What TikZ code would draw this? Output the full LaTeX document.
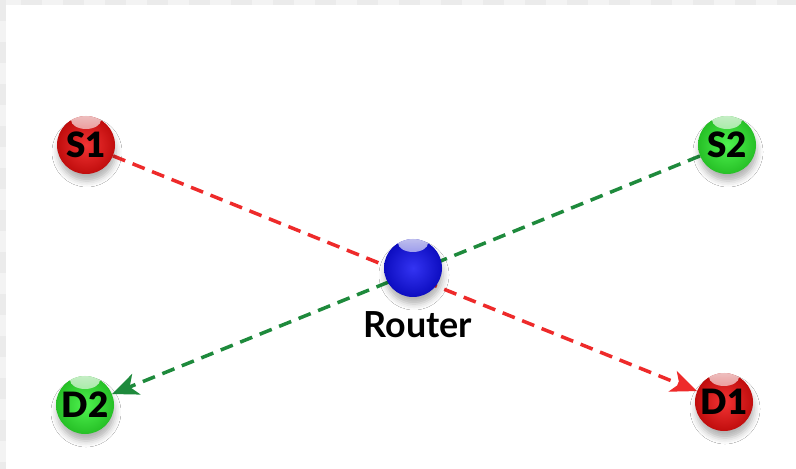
\documentclass[tikz,border=0pt]{standalone}
\usepackage{fontspec}
\setmainfont{Lato}
\newfontfamily\hostfont{Lato Black}
\usetikzlibrary{arrows.meta,shadows.blur,fadings,backgrounds}

\definecolor{redHost}{HTML}{F01010}
\definecolor{greenHost}{HTML}{30F030}
\definecolor{blueHost}{HTML}{1010F0}
\definecolor{redFlow}{HTML}{EE2A2A}
\definecolor{greenFlow}{HTML}{1E8A3C}
\definecolor{tileA}{HTML}{F3F3F3}
\definecolor{tileB}{HTML}{EBEBEB}

\tikzset{
  ball/.style={circle, minimum size=58bp, inner sep=0pt,
    inner color=#1!85!white, outer color=#1!80!black,
    blur shadow={shadow xshift=1bp, shadow yshift=-7bp, shadow opacity=30, shadow blur radius=6bp},
    path picture={
      \fill[white, opacity=.8, path fading=south]
        ([yshift=-4bp]path picture bounding box.north) ellipse (15bp and 9bp);
    },
    font=\hostfont\fontsize{35}{35}\selectfont, text=black},
  flow/.style={line width=3.5bp, dash pattern=on 13bp off 8bp, -{Stealth[length=26bp,width=22bp,inset=7bp]}}
}

\begin{document}
\begin{tikzpicture}[x=1bp, y=-1bp]
    \useasboundingbox (0,0) rectangle (796,469);

    % Hosts and router
    \node[ball=redHost]   (S1) at (86,145)  {S1};
    \node[ball=greenHost] (S2) at (727,145) {S2};
    \node[ball=greenHost] (D2) at (85,405)  {D2};
    \node[ball=redHost]   (D1) at (724,402) {D1};
    \node[ball=blueHost]  (R)  at (413,268) {};
    \node[font=\bfseries\fontsize{36}{36}\selectfont, anchor=base] (RL) at (418,338) {Router};

    \begin{scope}[on background layer]
        % Background with tiled edges
        \fill[white] (0,0) rectangle (796,469);
        \foreach \i in {0,...,37}
            \pgfmathsetmacro\tile{mod(\i,2)==0 ? "tileA" : "tileB"}
            \fill[\tile] (\i*21,0) rectangle (\i*21+21,5);
        \foreach \j in {0,...,22}
            \pgfmathsetmacro\tile{mod(\j,2)==0 ? "tileB" : "tileA"}
            \fill[\tile] (0,\j*21) rectangle (6,\j*21+21);

        % Flows
        \draw[flow, redFlow]   (S1) -- (D1);
        \draw[flow, greenFlow] (S2) -- (D2);
    \end{scope}

\end{tikzpicture}
\end{document}
